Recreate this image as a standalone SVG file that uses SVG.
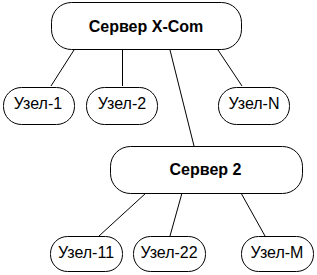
<svg xmlns="http://www.w3.org/2000/svg" width="317" height="275" viewBox="0 0 317 275">
<style>
.box{fill:#fff;stroke:#000;stroke-width:1}
.ln{stroke:#000;stroke-width:1;fill:none}
.srv{font-family:"Liberation Sans",Arial,sans-serif;font-weight:bold;font-size:16px;text-anchor:middle;fill:#000}
.nd{font-family:"Liberation Sans",Arial,sans-serif;font-size:16px;text-anchor:middle;fill:#000}
</style>
<rect width="317" height="275" fill="#fff"/>
<g id="connectors">
<line class="ln" x1="74" y1="50" x2="51" y2="86"/>
<line class="ln" x1="122.5" y1="50" x2="122.5" y2="86"/>
<line class="ln" x1="218" y1="50" x2="242" y2="86"/>
<line class="ln" x1="170" y1="50" x2="194" y2="146"/>
<line class="ln" x1="146" y1="193" x2="99" y2="236"/>
<line class="ln" x1="182" y1="193" x2="170" y2="236"/>
<line class="ln" x1="241" y1="193" x2="265" y2="236"/>
</g>
<g id="server-xcom">
<rect class="box" x="51.5" y="2.5" width="190" height="47" rx="20" ry="20"/>
<text class="srv" x="146" y="32">Сервер X-Com</text>
</g>
<g id="node-1">
<rect class="box" x="3.5" y="87.5" width="71" height="37" rx="18" ry="18"/>
<text class="nd" x="38" y="109">Узел-1</text>
</g>
<g id="node-2">
<rect class="box" x="86.5" y="87.5" width="71" height="37" rx="18" ry="18"/>
<text class="nd" x="122" y="109">Узел-2</text>
</g>
<g id="node-n">
<rect class="box" x="218.5" y="87.5" width="71" height="37" rx="18" ry="18"/>
<text class="nd" x="254" y="109">Узел-N</text>
</g>
<g id="server-2">
<rect class="box" x="110.5" y="146.5" width="192" height="47" rx="20" ry="20"/>
<text class="srv" x="205.5" y="175">Сервер 2</text>
</g>
<g id="node-11">
<rect class="box" x="50.5" y="236.5" width="72" height="35" rx="17" ry="17"/>
<text class="nd" x="86" y="258">Узел-11</text>
</g>
<g id="node-22">
<rect class="box" x="133.5" y="236.5" width="72" height="35" rx="17" ry="17"/>
<text class="nd" x="169" y="258">Узел-22</text>
</g>
<g id="node-m">
<rect class="box" x="241.5" y="236.5" width="72" height="35" rx="17" ry="17"/>
<text class="nd" x="277" y="258">Узел-M</text>
</g>
</svg>
